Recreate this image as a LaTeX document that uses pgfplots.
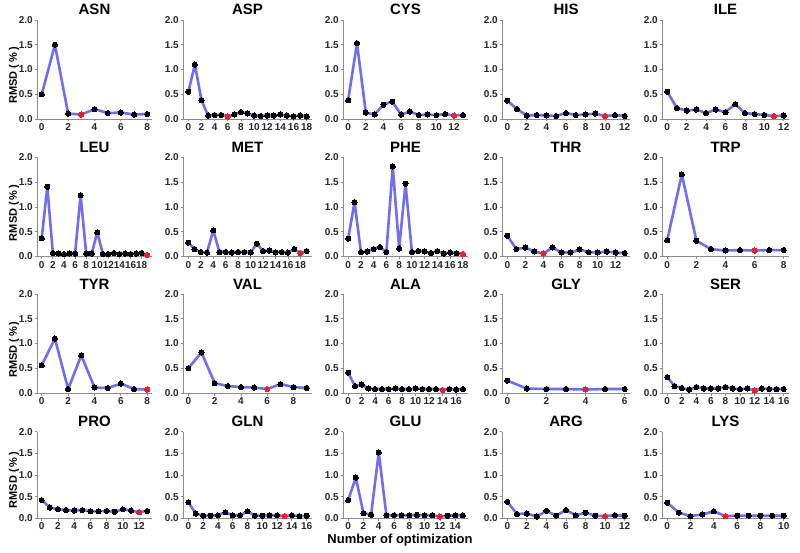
\documentclass[border=0pt]{standalone}
\usepackage{fontspec}
\setmainfont{Liberation Sans}
\usepackage{pgfplots}
\pgfplotsset{compat=1.18}

\definecolor{lineblue}{RGB}{110,110,242}
\definecolor{bestred}{RGB}{240,30,40}
\definecolor{axgray}{RGB}{140,140,140}

\pgfplotsset{
  panel/.style={
    scale only axis, anchor=south west, clip=false,
    ymin=0, ymax=2, ytick={0,0.5,1,1.5,2},
    yticklabels={0.0,0.5,1.0,1.5,2.0},
    enlarge x limits=0.045,
    axis x line*=bottom, axis y line*=left,
    axis line style={axgray, line width=0.8pt},
    tick style={axgray, line width=0.8pt},
    tick align=outside, major tick length=2.5pt,
    /pgf/number format/assume math mode=true,
    ticklabel style={font=\bfseries\fontsize{10}{12}\selectfont, text=black!85},
    xticklabel style={inner sep=2pt},
    yticklabel style={inner sep=1.5pt},
    every axis title shift=0pt,
    title style={font=\bfseries\fontsize{15}{18}\selectfont,
      at={(axis description cs:0.5,1)}, anchor=base, yshift=5pt},
  },
  series/.style={color=lineblue, line width=2.6pt, line join=round,
    mark=*, mark size=2.6pt, mark options={fill=black, draw=black, line width=0pt}},
  best/.style={only marks, mark=*, mark size=2.6pt, color=bestred,
    mark options={line width=0pt}},
  ylab/.style={ylabel={RMSD (\,\%\,)},
    ylabel style={at={(axis description cs:0,0.44)}, anchor=center, yshift=23pt,
      font=\bfseries\fontsize{11}{13}\selectfont}},
}

% #1 x, #2 y, #3 width, #4 height, #5 title, #6 xticks, #7 extra, #8 data, #9 best point
\newcommand{\panel}[9]{%
\begin{axis}[panel, at={(#1pt,#2pt)}, width=#3pt, height=#4pt, title={#5}, xtick={#6}, #7]
\addplot[series] coordinates {#8};
\addplot[best] coordinates {#9};
\end{axis}}

\begin{document}
\begin{tikzpicture}
\path[use as bounding box] (0,0) rectangle (800pt,552pt);

% row 1
\panel{37}{433}{115}{99}{ASN}{0,2,...,8}{ylab}
{(0,0.50)(1,1.50)(2,0.11)(3,0.09)(4,0.20)(5,0.12)(6,0.13)(7,0.09)(8,0.10)}{(3,0.09)}
\panel{183}{433}{129}{99}{ASP}{0,2,...,18}{}
{(0,0.55)(1,1.10)(2,0.38)(3,0.07)(4,0.08)(5,0.08)(6,0.05)(7,0.09)(8,0.14)(9,0.11)(10,0.07)(11,0.06)(12,0.07)(13,0.07)(14,0.09)(15,0.07)(16,0.05)(17,0.07)(18,0.05)}{(6,0.05)}
\panel{343}{433}{125}{99}{CYS}{0,2,...,12}{}
{(0,0.38)(1,1.53)(2,0.13)(3,0.09)(4,0.29)(5,0.35)(6,0.09)(7,0.15)(8,0.08)(9,0.09)(10,0.08)(11,0.10)(12,0.07)(13,0.08)}{(12,0.07)}
\panel{502}{433}{128}{99}{HIS}{0,2,...,12}{}
{(0,0.37)(1,0.20)(2,0.07)(3,0.08)(4,0.07)(5,0.06)(6,0.12)(7,0.08)(8,0.09)(9,0.11)(10,0.06)(11,0.08)(12,0.06)}{(10,0.06)}
\panel{662}{433}{127}{99}{ILE}{0,2,...,12}{}
{(0,0.55)(1,0.22)(2,0.17)(3,0.19)(4,0.12)(5,0.19)(6,0.14)(7,0.30)(8,0.12)(9,0.10)(10,0.08)(11,0.06)(12,0.07)}{(11,0.06)}

% row 2
\panel{37}{295.5}{115}{99}{LEU}{0,2,...,18}{ylab}
{(0,0.37)(1,1.41)(2,0.07)(3,0.06)(4,0.05)(5,0.06)(6,0.06)(7,1.24)(8,0.06)(9,0.06)(10,0.49)(11,0.05)(12,0.05)(13,0.07)(14,0.05)(15,0.06)(16,0.05)(17,0.06)(18,0.07)(19,0.03)}{(19,0.03)}
\panel{183}{295.5}{129}{99}{MET}{0,2,...,18}{}
{(0,0.28)(1,0.15)(2,0.09)(3,0.08)(4,0.53)(5,0.09)(6,0.09)(7,0.08)(8,0.09)(9,0.09)(10,0.08)(11,0.26)(12,0.11)(13,0.12)(14,0.08)(15,0.09)(16,0.08)(17,0.15)(18,0.07)(19,0.11)}{(18,0.07)}
\panel{343}{295.5}{125}{99}{PHE}{0,2,...,18}{}
{(0,0.36)(1,1.10)(2,0.09)(3,0.10)(4,0.15)(5,0.19)(6,0.09)(7,1.82)(8,0.16)(9,1.47)(10,0.09)(11,0.11)(12,0.10)(13,0.07)(14,0.11)(15,0.06)(16,0.08)(17,0.07)(18,0.05)}{(18,0.05)}
\panel{502}{295.5}{128}{99}{THR}{0,2,...,12}{}
{(0,0.42)(1,0.15)(2,0.18)(3,0.10)(4,0.06)(5,0.18)(6,0.08)(7,0.08)(8,0.14)(9,0.09)(10,0.08)(11,0.10)(12,0.08)(13,0.07)}{(4,0.06)}
\panel{662}{295.5}{127}{99}{TRP}{0,2,...,8}{}
{(0,0.33)(1,1.66)(2,0.32)(3,0.15)(4,0.12)(5,0.13)(6,0.12)(7,0.13)(8,0.13)}{(6,0.12)}

% row 3
\panel{37}{159}{115}{99}{TYR}{0,2,...,8}{ylab}
{(0,0.56)(1,1.10)(2,0.08)(3,0.76)(4,0.11)(5,0.10)(6,0.19)(7,0.08)(8,0.07)}{(8,0.07)}
\panel{183}{159}{129}{99}{VAL}{0,2,...,8}{}
{(0,0.50)(1,0.82)(2,0.20)(3,0.14)(4,0.12)(5,0.11)(6,0.08)(7,0.18)(8,0.12)(9,0.10)}{(6,0.08)}
\panel{343}{159}{125}{99}{ALA}{0,2,...,16}{}
{(0,0.41)(1,0.14)(2,0.17)(3,0.09)(4,0.08)(5,0.08)(6,0.08)(7,0.09)(8,0.08)(9,0.08)(10,0.09)(11,0.08)(12,0.08)(13,0.08)(14,0.06)(15,0.08)(16,0.07)(17,0.08)}{(14,0.06)}
\panel{502}{159}{128}{99}{GLY}{0,2,4,6}{}
{(0,0.25)(1,0.09)(2,0.08)(3,0.08)(4,0.07)(5,0.08)(6,0.08)}{(4,0.07)}
\panel{662}{159}{127}{99}{SER}{0,2,...,16}{}
{(0,0.32)(1,0.14)(2,0.10)(3,0.07)(4,0.12)(5,0.09)(6,0.09)(7,0.09)(8,0.12)(9,0.09)(10,0.08)(11,0.09)(12,0.05)(13,0.09)(14,0.08)(15,0.08)(16,0.08)}{(12,0.05)}

% row 4
\panel{37}{33.7}{115}{86.6}{PRO}{0,2,...,12}{ylab}
{(0,0.42)(1,0.25)(2,0.21)(3,0.19)(4,0.18)(5,0.19)(6,0.16)(7,0.16)(8,0.17)(9,0.15)(10,0.21)(11,0.18)(12,0.14)(13,0.17)}{(12,0.14)}
\panel{183}{33.7}{129}{86.6}{GLN}{0,2,...,16}{}
{(0,0.37)(1,0.11)(2,0.06)(3,0.06)(4,0.07)(5,0.14)(6,0.07)(7,0.07)(8,0.16)(9,0.06)(10,0.06)(11,0.07)(12,0.07)(13,0.05)(14,0.07)(15,0.05)(16,0.06)}{(13,0.05)}
\panel{343}{33.7}{125}{86.6}{GLU}{0,2,...,14}{}
{(0,0.42)(1,0.94)(2,0.12)(3,0.08)(4,1.52)(5,0.07)(6,0.07)(7,0.07)(8,0.07)(9,0.08)(10,0.07)(11,0.07)(12,0.04)(13,0.06)(14,0.07)(15,0.07)}{(12,0.04)}
\panel{502}{33.7}{128}{86.6}{ARG}{0,2,...,12}{}
{(0,0.38)(1,0.10)(2,0.11)(3,0.04)(4,0.17)(5,0.06)(6,0.19)(7,0.07)(8,0.13)(9,0.06)(10,0.05)(11,0.07)(12,0.06)}{(10,0.05)}
\panel{662}{33.7}{127}{86.6}{LYS}{0,2,...,10}{}
{(0,0.36)(1,0.13)(2,0.05)(3,0.09)(4,0.16)(5,0.05)(6,0.06)(7,0.06)(8,0.06)(9,0.06)(10,0.06)}{(5,0.05)}

\node[font=\bfseries\fontsize{13}{15}\selectfont] at (400pt,12pt) {Number of optimization};
\end{tikzpicture}
\end{document}
